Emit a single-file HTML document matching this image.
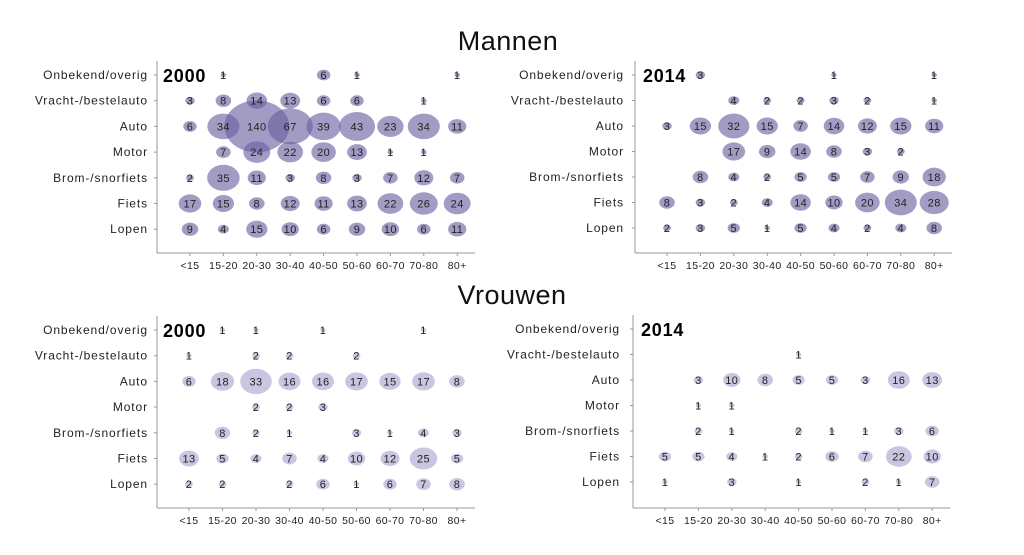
<!DOCTYPE html>
<html><head><meta charset="utf-8"><style>
html,body{margin:0;padding:0;background:#fff;width:1024px;height:555px;overflow:hidden}
svg{display:block}
text{font-family:"Liberation Sans",sans-serif}
</style></head><body>
<svg id="s" width="1024" height="555" xmlns="http://www.w3.org/2000/svg">
<text x="508" y="50" font-size="27" text-anchor="middle" fill="#111" letter-spacing="0.5">Mannen</text>
<text x="512" y="304" font-size="27" text-anchor="middle" fill="#111" letter-spacing="0.5">Vrouwen</text>
</svg>
<script>
var s=document.getElementById('s'),NS='http://www.w3.org/2000/svg';
function el(n,a,t){var e=document.createElementNS(NS,n);for(var k in a)e.setAttribute(k,a[k]);if(t!=null)e.textContent=t;s.appendChild(e);return e;}
var cats=['Onbekend/overig','Vracht-/bestelauto','Auto','Motor','Brom-/snorfiets','Fiets','Lopen'];
var ages=['<15','15-20','20-30','30-40','40-50','50-60','60-70','70-80','80+'];
var _=null;
var panels=[
{ax:157,x0:190,dx:33.4,y0:75,dy:25.7,axisY:253,labX:148,year:'2000',yx:163,fill:'rgba(105,95,160,0.62)',d:[
[_,1,_,_,6,1,_,_,1],[3,8,14,13,6,6,_,1,_],[6,34,140,67,39,43,23,34,11],[_,7,24,22,20,13,1,1,_],[2,35,11,3,8,3,7,12,7],[17,15,8,12,11,13,22,26,24],[9,4,15,10,6,9,10,6,11]]},
{ax:635,x0:667,dx:33.4,y0:75,dy:25.5,axisY:253,labX:624,year:'2014',yx:643,fill:'rgba(105,95,160,0.62)',d:[
[_,3,_,_,_,1,_,_,1],[_,_,4,2,2,3,2,_,1],[3,15,32,15,7,14,12,15,11],[_,_,17,9,14,8,3,2,_],[_,8,4,2,5,5,7,9,18],[8,3,2,4,14,10,20,34,28],[2,3,5,1,5,4,2,4,8]]},
{ax:157,x0:189,dx:33.5,y0:330,dy:25.7,axisY:508,labX:148,year:'2000',yx:163,fill:'rgba(150,140,195,0.5)',d:[
[_,1,1,_,1,_,_,1,_],[1,_,2,2,_,2,_,_,_],[6,18,33,16,16,17,15,17,8],[_,_,2,2,3,_,_,_,_],[_,8,2,1,_,3,1,4,3],[13,5,4,7,4,10,12,25,5],[2,2,_,2,6,1,6,7,8]]},
{ax:633,x0:665,dx:33.4,y0:329,dy:25.5,axisY:508,labX:620,year:'2014',yx:641,fill:'rgba(150,140,195,0.5)',d:[
[_,_,_,_,_,_,_,_,_],[_,_,_,_,1,_,_,_,_],[_,3,10,8,5,5,3,16,13],[_,1,1,_,_,_,_,_,_],[_,2,1,_,2,1,1,3,6],[5,5,4,1,2,6,7,22,10],[1,_,3,_,1,_,2,1,7]]}
];
panels.forEach(function(p){
  el('line',{x1:p.ax,y1:p.y0-14,x2:p.ax,y2:p.axisY,stroke:'#999','stroke-width':1});
  el('line',{x1:p.ax,y1:p.axisY,x2:p.x0+8*p.dx+18,y2:p.axisY,stroke:'#999','stroke-width':1});
  for(var r=0;r<7;r++){var y=p.y0+r*p.dy;
    el('line',{x1:p.ax-3,y1:y,x2:p.ax,y2:y,stroke:'#999'});
    el('text',{x:p.labX,y:y+4,'font-size':12,'letter-spacing':0.9,'text-anchor':'end',fill:'#222'},cats[r]);}
  for(var c=0;c<9;c++){var x=p.x0+c*p.dx;
    el('line',{x1:x,y1:p.axisY,x2:x,y2:p.axisY+3,stroke:'#999'});
    el('text',{x:x,y:p.axisY+16,'font-size':10.5,'letter-spacing':0.4,'text-anchor':'middle',fill:'#222'},ages[c]);}
  for(var r=0;r<7;r++)for(var c=0;c<9;c++){var v=p.d[r][c];if(v==null)continue;
    var x=p.x0+c*p.dx,y=p.y0+r*p.dy,rr=2.75*Math.sqrt(v);
    el('ellipse',{cx:x,cy:y,rx:rr,ry:rr*0.8,fill:p.fill});}
  for(var r=0;r<7;r++)for(var c=0;c<9;c++){var v=p.d[r][c];if(v==null)continue;
    el('text',{x:p.x0+c*p.dx,y:p.y0+r*p.dy+4,'font-size':11,'letter-spacing':0.4,'text-anchor':'middle',fill:'#222'},String(v));}
  el('text',{x:p.yx,y:p.y0+7,'font-size':18,'letter-spacing':0.8,'font-weight':'bold',fill:'#000'},p.year);
});
</script>
</body></html>
